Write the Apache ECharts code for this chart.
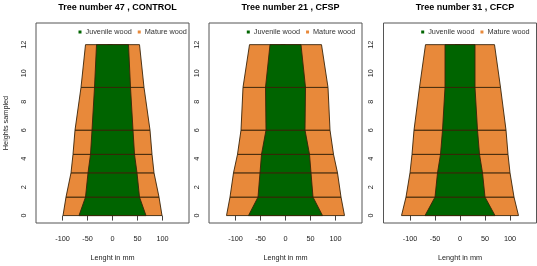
<!DOCTYPE html>
<html>
<head>
<meta charset="utf-8">
<script src="https://cdn.jsdelivr.net/npm/echarts@6/dist/echarts.min.js"></script>
<style>html,body{margin:0;padding:0;background:#fff;}#c{width:537px;height:266px;}</style>
</head>
<body>
<div id="c"></div>
<script>
// Sampled heights (shared by all trees)
const heights = [0, 1.3, 3, 4.3, 6, 9, 12];
// Half-widths (mm) of the whole section (outer edge of mature wood)
const tree47Total = [99, 93, 83, 79, 75, 63, 54];
const tree21Total = [118, 111, 104, 96, 89, 85, 72];
const tree31Total = [117, 108, 100, 96, 92, 81, 69];
// Half-widths (mm) of the juvenile wood core
const tree47Juvenile = [67, 54, 49, 44, 41, 36, 32];
const tree21Juvenile = [74, 55, 51, 48, 39, 40, 31];
const tree31Juvenile = [70, 50, 45, 39, 35, 30, 30];
const titles = ['Tree number 47 , CONTROL', 'Tree number 21 , CFSP', 'Tree number 31 , CFCP'];
const xTicks = [-100, -50, 0, 50, 100];
const yTicks = [0, 2, 4, 6, 8, 10, 12];

const GREEN = '#006400', ORANGE = '#E8893A', EDGE = '#3a2408';
const FONT = 'Liberation Sans, Arial, sans-serif';

const trees = [
  {total: tree47Total, juv: tree47Juvenile},
  {total: tree21Total, juv: tree21Juvenile},
  {total: tree31Total, juv: tree31Juvenile}
];
const panelLeft = [36, 209, 383.5];
const panelW = 153;

function segments(r) {
  const out = [];
  for (let i = 0; i < heights.length - 1; i++) out.push([heights[i], heights[i + 1], r[i], r[i + 1]]);
  return out;
}
function makeRender(color) {
  return function (params, api) {
    const h0 = api.value(0), h1 = api.value(1), r0 = api.value(2), r1 = api.value(3);
    return {
      type: 'polygon',
      shape: {points: [api.coord([-r0, h0]), api.coord([r0, h0]), api.coord([r1, h1]), api.coord([-r1, h1])]},
      style: {fill: color, stroke: EDGE, lineWidth: 0.9}
    };
  };
}

const grid = [], xAxis = [], yAxis = [], series = [], title = [], legend = [];
trees.forEach((t, k) => {
  grid.push({left: panelLeft[k], top: 23, width: panelW, height: 207, show: true,
    borderColor: '#555', borderWidth: 1, backgroundColor: 'transparent'});
  xAxis.push({type: 'value', gridIndex: k, min: -153, max: 153,
    name: 'Lenght in mm', nameLocation: 'middle', nameGap: 31,
    nameTextStyle: {fontFamily: FONT, fontSize: 7.3, color: '#222'},
    axisLine: {show: false}, splitLine: {show: false},
    axisTick: {show: true, inside: false, length: 5, customValues: xTicks, lineStyle: {color: '#444'}},
    axisLabel: {customValues: xTicks, margin: 12, fontFamily: FONT, fontSize: 7.3, color: '#222'}
  });
  yAxis.push({type: 'value', gridIndex: k, min: -0.52, max: 13.52,
    name: k === 0 ? 'Heights sampled' : '', nameLocation: 'middle', nameGap: 27,
    nameTextStyle: {fontFamily: FONT, fontSize: 7.3, color: '#222'},
    axisLine: {show: false}, splitLine: {show: false},
    axisTick: {show: true, inside: false, length: 5, customValues: yTicks, lineStyle: {color: '#444'}},
    axisLabel: {customValues: yTicks, rotate: 90, margin: 9, fontFamily: FONT, fontSize: 7.3, color: '#222'}
  });
  series.push({type: 'custom', name: 'Mature wood', xAxisIndex: k, yAxisIndex: k,
    itemStyle: {color: ORANGE}, renderItem: makeRender(ORANGE), data: segments(t.total), z: 2});
  series.push({type: 'custom', name: 'Juvenile wood', xAxisIndex: k, yAxisIndex: k,
    itemStyle: {color: GREEN}, renderItem: makeRender(GREEN), data: segments(t.juv), z: 3});
  title.push({text: titles[k], left: panelLeft[k] + panelW / 2, textAlign: 'center', top: -2,
    textStyle: {fontFamily: FONT, fontSize: 9, fontWeight: 'bold', color: '#000'}});
  legend.push({data: ['Juvenile wood', 'Mature wood'], left: [78.5, 246.8, 421.2][k], top: 28.5,
    icon: 'rect', itemWidth: 3, itemHeight: 3, itemGap: 6, padding: 0,
    textStyle: {fontFamily: FONT, fontSize: 7.3, color: '#333', padding: [0, 0, 0, -1]}});
});

const chart = echarts.init(document.getElementById('c'), null, {renderer: 'canvas'});
chart.setOption({animation: false, backgroundColor: '#fff', title, legend, grid, xAxis, yAxis, series});
</script>
</body>
</html>
